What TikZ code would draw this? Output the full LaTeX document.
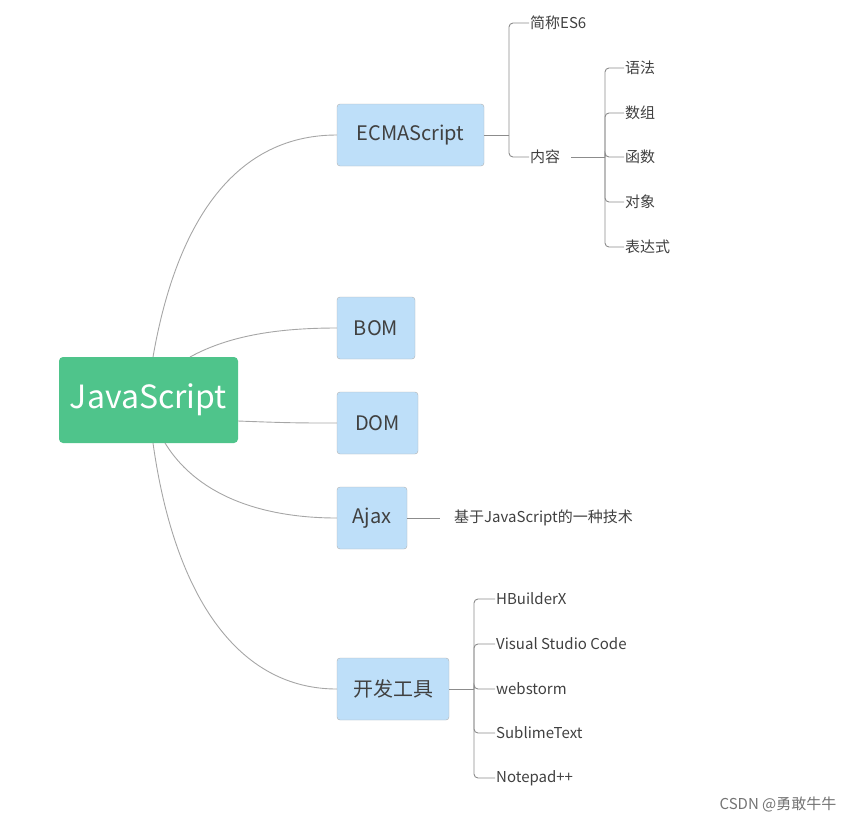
\documentclass[tikz,border=0pt]{standalone}
\usepackage{fontspec}
\setmainfont{Noto Sans CJK SC}
\begin{document}
\begin{tikzpicture}[x=1pt,y=-1pt,
  box/.style={draw=black!30,fill=boxblue,rounded corners=3pt,text=black!75,font=\fontsize{20}{24}\selectfont,inner sep=0pt,minimum height=62pt},
  lbl/.style={text=black!75,font=\fontsize{15}{18}\selectfont,anchor=west,inner sep=1pt},
  con/.style={draw=black!35,line width=0.9pt},
  br/.style={draw=black!45,line width=0.9pt,rounded corners=4pt}]
\definecolor{boxblue}{HTML}{BEDFF9}
\definecolor{rootgreen}{HTML}{4FC48B}
\useasboundingbox (0,0) rectangle (863,823);
\node[fill=rootgreen,rounded corners=4pt,text=white,font=\fontsize{32}{38}\selectfont,minimum width=179pt,minimum height=86pt,inner sep=0pt] (js) at (148.5,400) {JavaScript};
\node[box,minimum width=147pt] (ecma) at (410.5,135) {ECMAScript};
\node[box,minimum width=78pt] (bom) at (376,328) {BOM};
\node[box,minimum width=81pt] (dom) at (377.5,423) {DOM};
\node[box,minimum width=70pt] (ajax) at (372,518) {Ajax};
\node[box,minimum width=112pt] (tool) at (393,689) {开发工具};
\coordinate (j1) at (153,357);
\coordinate (j2) at (190,357);
\coordinate (j3) at (238,421);
\coordinate (j4) at (165,443);
\coordinate (j5) at (153,443);
\draw[con] (j1) .. controls (175,230) and (230,135) .. (ecma.west);
\draw[con] (j2) .. controls (230,335) and (280,328) .. (bom.west);
\draw[con] (j3) .. controls (290,423) and (300,423) .. (dom.west);
\draw[con] (j4) .. controls (200,500) and (270,518) .. (ajax.west);
\draw[con] (j5) .. controls (175,600) and (240,689) .. (tool.west);
% ECMAScript children
\node[lbl] (es6) at (529,23) {简称ES6};
\node[lbl] (nr) at (529,157) {内容};
\coordinate (e1) at (509,135);
\draw[br] (ecma.east) -- (e1);
\draw[br] (e1) |- (es6.west);
\draw[br] (e1) |- (nr.west);
\coordinate (n1) at (605,157);
\draw[br] (nr.east) ++(10,0) -- (n1);
\foreach \t/\y/\n in {语法/68/a,数组/113/b,函数/157/c,对象/202/d,表达式/247/e}{
  \node[lbl] (c\n) at (624,\y) {\t};
  \draw[br] (n1) |- (c\n.west);
}
% Ajax
\node[lbl] (ajt) at (453,518) {基于JavaScript的一种技术};
\draw[br] (ajax.east) -- ++(33,0);
% tools
\coordinate (t1) at (474,689);
\draw[br] (tool.east) -- (t1);
\foreach \t/\y/\n in {HBuilderX/599/a,Visual Studio Code/644/b,webstorm/689/c,SublimeText/733/d,Notepad++/778/e}{
  \node[lbl] (t\n) at (495,\y) {\t};
  \draw[br] (t1) |- (t\n.west);
}
\node[text=black!55,font=\fontsize{15}{18}\selectfont,inner sep=0pt] (wm) at (778,804) {CSDN @勇敢牛牛};
\end{tikzpicture}
\end{document}
